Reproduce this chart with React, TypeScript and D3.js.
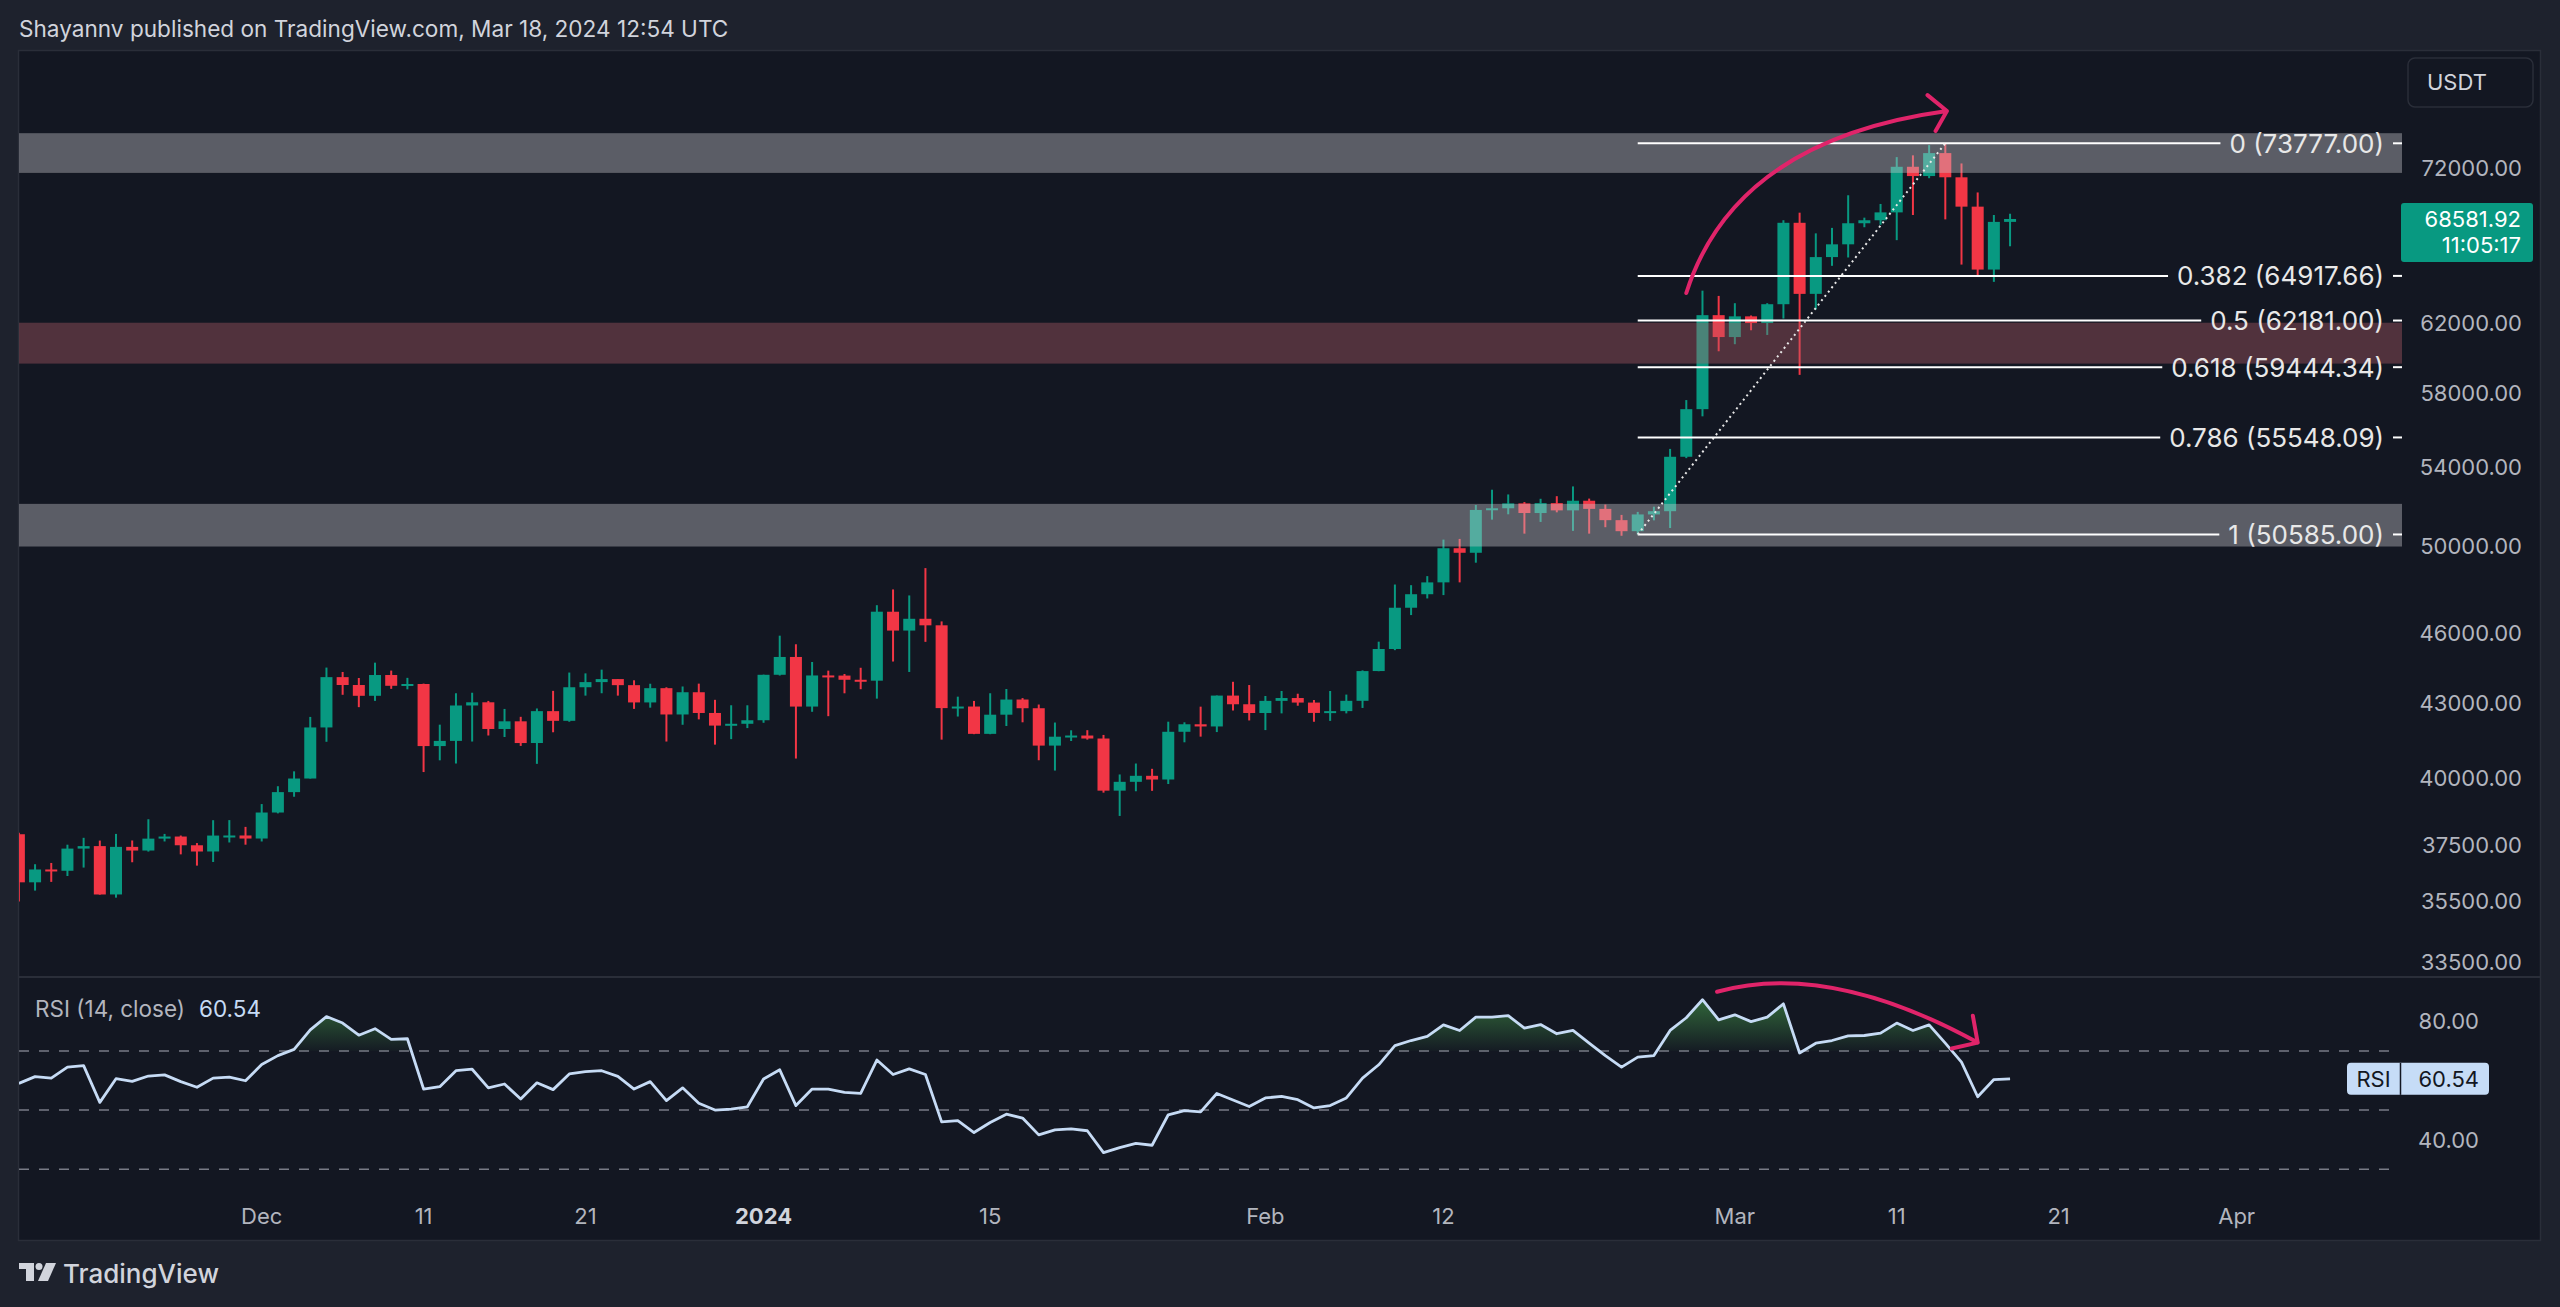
import * as d3 from 'd3'

// BTC/USDT daily candles with a fib retracement and RSI(14) pane,
// laid out like a TradingView snapshot.
const START = Date.UTC(2023, 10, 16)

const OPEN = [
  37880, 36163, 36614, 36568, 37359, 37449, 35742, 37421, 37289, 37721, 37796, 37479, 37255, 37832, 37835,
  37724, 38682, 39451, 39972, 41991, 44080, 43746, 43293, 44170, 43713, 43789, 41243, 41450, 42891, 43023,
  41929, 42240, 41365, 42657, 42260, 43652, 43869, 43997, 43740, 43017, 43613, 42520, 43442, 42582, 42067, 42140,
  42284, 44180, 44946, 42846, 44152, 44146, 43968, 43929, 46951, 46105, 46633, 46340, 42782, 42847, 41732,
  42511, 43138, 42777, 41262, 41618, 41665, 41545, 39507, 39845, 40077, 39934, 41816, 42120, 42031, 43302, 42941,
  42580, 43082, 43200, 43011, 42582, 42658, 43084, 44339, 45293, 47132, 47751, 48300, 49917, 49699, 51795,
  51880, 52124, 51642, 52137, 51775, 52258, 51849, 51288, 50745, 51572, 51733, 54522, 57085, 62504,
  61198, 62432, 62029, 63168, 68330, 63802, 66107, 66925, 68300, 68498, 69020, 72125, 71482, 73083, 71396,
  69403, 65316, 68390,
]
const HIGH = [
  37934, 36800, 36845, 37500, 37750, 37649, 37892, 37653, 38432, 37892, 37833, 37559, 38397, 38400, 38150,
  38999, 39676, 40250, 42420, 44488, 44300, 44042, 44700, 44359, 44049, 43805, 42104, 43400, 43421, 43080,
  42748, 42424, 42767, 43500, 44275, 44240, 44400, 43997, 43946, 43800, 43650, 43684, 43804, 43125, 42900, 42899,
  44186, 45879, 45500, 44729, 44357, 44214, 44480, 47248, 47972, 47695, 48969, 46515, 43257, 43079, 43400,
  43578, 43198, 42930, 42191, 41876, 41881, 41689, 40129, 40555, 40348, 42225, 42200, 42842, 43305, 43882, 43745,
  43285, 43494, 43380, 43119, 43494, 43344, 44368, 45614, 48200, 48170, 48592, 50334, 50368, 52043, 52816,
  52576, 52191, 52356, 52488, 52985, 52366, 52065, 51548, 51698, 51958, 54938, 57588, 64000, 63676,
  63230, 62485, 63230, 68500, 69000, 67637, 67995, 70170, 68670, 69584, 72800, 72925, 73650, 73777, 72357,
  70360, 68845, 68930,
]
const LOW = [
  35500, 35875, 36178, 36384, 36681, 35735, 35632, 36870, 37251, 37617, 37152, 36750, 36880, 37580, 37500,
  37616, 38650, 39275, 39971, 41414, 43335, 42821, 43081, 43584, 43564, 40222, 40680, 40555, 41424, 41666,
  41605, 41250, 40542, 41796, 42223, 43300, 43400, 43300, 42750, 42800, 41424, 42100, 42319, 41300, 41520, 41965,
  42180, 44148, 40750, 42630, 42450, 43397, 43569, 43175, 44748, 44300, 45606, 41500, 42436, 41720, 41718,
  42050, 42200, 40683, 40280, 41446, 41500, 39431, 38555, 39484, 39500, 39760, 41394, 41620, 41804, 42683, 42276,
  41884, 42565, 42880, 42222, 42258, 42565, 42788, 44332, 45242, 46800, 47557, 47711, 48300, 49225, 51314,
  51579, 50625, 51200, 51677, 50760, 50625, 50940, 50521, 50585, 51279, 50901, 54450, 56691, 60364,
  60777, 61600, 61321, 62300, 59005, 62848, 65550, 66081, 68038, 68200, 67195, 68845, 71333, 68555, 65630,
  64870, 64545, 66800,
]
const CLOSE = [
  36163, 36614, 36568, 37359, 37448, 35741, 37421, 37289, 37720, 37796, 37479, 37254, 37832, 37834, 37723,
  38682, 39451, 39972, 41991, 44080, 43746, 43293, 44170, 43713, 43789, 41243, 41450, 42890, 43023, 41929,
  42240, 41364, 42657, 42260, 43652, 43869, 43997, 43740, 43017, 43613, 42520, 43442, 42581, 42066, 42140, 42283,
  44179, 44946, 42845, 44151, 44145, 43968, 43929, 46952, 46105, 46633, 46339, 42782, 42847, 41732, 42511,
  43137, 42777, 41262, 41618, 41665, 41545, 39507, 39845, 40077, 39933, 41816, 42120, 42031, 43302, 42941, 42580,
  43082, 43200, 43011, 42583, 42658, 43084, 44338, 45293, 47132, 47751, 48299, 49917, 49699, 51795, 51880,
  52124, 51642, 52137, 51774, 52258, 51849, 51288, 50745, 51572, 51733, 54522, 57085, 62504, 61198,
  62432, 62029, 63168, 68330, 63801, 66106, 66925, 68300, 68498, 69020, 72123, 71482, 73083, 71397, 69403,
  65315, 68390, 68581.92,
]
const RSI = [
  59.0, 61.3, 60.8, 64.5, 65.0, 52.6, 60.6, 59.7, 61.5, 61.9, 59.6, 57.7, 60.8, 61.1, 59.9,
  65.4, 68.4, 70.5, 77.1, 81.6, 79.4, 75.3, 77.5, 73.9, 74.1, 57.1, 57.9, 63.3, 63.8, 57.5,
  58.8, 53.7, 59.2, 56.9, 62.2, 63.0, 63.3, 61.4, 57.1, 59.6, 53.2, 57.5, 52.3, 50.0, 50.3, 51.1,
  60.5, 63.6, 51.5, 57.1, 57.1, 56.0, 55.6, 66.9, 62.0, 63.9, 62.0, 46.0, 46.4, 42.4, 45.8,
  48.6, 47.3, 41.6, 43.3, 43.6, 43.0, 35.6, 37.3, 38.7, 38.1, 48.4, 49.8, 49.4, 55.6, 53.4, 51.2,
  54.1, 54.6, 53.5, 50.7, 51.5, 54.1, 60.8, 65.3, 71.8, 73.5, 74.9, 78.8, 76.9, 81.4, 81.4,
  81.9, 77.7, 78.9, 75.8, 76.9, 72.6, 68.4, 64.5, 67.9, 68.4, 76.9, 81.2, 87.3, 80.5,
  82.2, 79.9, 81.4, 85.9, 69.3, 72.6, 73.5, 75.1, 75.2, 76.0, 79.4, 76.9, 78.8, 72.6, 66.2,
  54.5, 60.3, 60.54,
]
const DATES = OPEN.map((_, i) => new Date(START + i * 864e5))

const PRICE_TICKS = [72000, 62000, 58000, 54000, 50000, 46000, 43000, 40000, 37500, 35500, 33500]
const RSI_TICKS = [80, 40]
const RSI_BANDS = [70, 50, 30]
const TIME_TICKS = ['2023-12-01', '2023-12-11', '2023-12-21', '2024-01-01', '2024-01-15', '2024-02-01', '2024-02-12', '2024-03-01', '2024-03-11', '2024-03-21', '2024-04-01']
const TIME_LABELS = ['Dec', '11', '21', '2024', '15', 'Feb', '12', 'Mar', '11', '21', 'Apr']

// support / resistance boxes (price ranges)
const ZONE_LO = [71700, 59650, 50000]
const ZONE_HI = [74500, 62050, 52100]
const ZONE_KIND = ['gray', 'red', 'gray']

const FIB_LEVELS = ['0', '0.382', '0.5', '0.618', '0.786', '1']
const FIB_PRICES = [73777, 64917.66, 62181, 59444.34, 55548.09, 50585]
const FIB_FROM = '2024-02-24'
const FIB_TO = '2024-03-14'

const LAST_PRICE = 68581.92
const COUNTDOWN = '11:05:17'

// hand-drawn arrows: [day of 2024, value]
const PRICE_ARROW = [[57.0, 63855], [60.0, 74006], [73.1, 76110], [71.9, 77290], [72.4, 74655]]
const RSI_ARROW = [[58.9, 90.0], [65.8, 100.5], [75.0, 72.8], [74.7, 81.9], [73.4, 70.8]]

const UP = '#089981'
const DOWN = '#f23645'
const FONT = 'Inter, "Noto Sans", sans-serif'

function textWidth(s: string, font: string) {
  const ctx = document.createElement('canvas').getContext('2d')
  if (!ctx) return s.length * 14
  ctx.font = font
  return ctx.measureText(s).width
}

export default function App() {
  const W = 2560
  const H = 1307
  const L = 19
  const PR = 2402 // right edge of plot area
  const R = 2540
  const TOP = 51
  const SEP = 977
  const BOT = 1240

  const x = d3.scaleUtc().domain([new Date(Date.UTC(2023, 11, 1)), new Date(Date.UTC(2024, 3, 1))]).range([261.7, 2236.7])
  const y = d3.scaleLog().domain([33500, 73777]).range([961.6, 143.3])
  const ry = d3.scaleLinear().domain([30, 80]).range([1169.2, 1021.3])
  const day = (d: number) => x(new Date(Date.UTC(2024, 0, 1) + d * 864e5))

  const bw = 12
  const rsiLine = d3.line<number>().x((_, i) => x(DATES[i])).y((v) => ry(v))(RSI) ?? ''
  const rsiArea =
    d3
      .area<number>()
      .x((_, i) => x(DATES[i]))
      .y0(ry(70))
      .y1((v) => ry(v))(RSI) ?? ''

  const arrow = (pts: number[][], fy: (v: number) => number) => {
    const p = d3.path()
    const P = pts.map(([d, v]) => [day(d), fy(v)])
    p.moveTo(P[0][0], P[0][1])
    p.quadraticCurveTo(P[1][0], P[1][1], P[2][0], P[2][1])
    p.moveTo(P[3][0], P[3][1])
    p.lineTo(P[2][0], P[2][1])
    p.lineTo(P[4][0], P[4][1])
    return p.toString()
  }

  const fibSize = 26
  const fibFont = `${fibSize}px ${FONT}`
  const fibX0 = x(new Date(FIB_FROM))
  const labelRight = 2384
  const rsiLast = RSI[RSI.length - 1]

  return (
    <svg width={W} height={H} viewBox={`0 0 ${W} ${H}`} style={{ position: 'absolute', left: 0, top: 0, display: 'block' }} fontFamily={FONT}>
      <defs>
        <clipPath id="mainClip">
          <rect x={L} y={TOP} width={PR - L} height={SEP - TOP} />
        </clipPath>
        <clipPath id="rsiClip">
          <rect x={L} y={SEP + 1} width={PR - L} height={BOT - SEP - 50} />
        </clipPath>
        <clipPath id="overClip">
          <rect x={L} y={SEP + 1} width={PR - L} height={ry(70) - SEP - 1} />
        </clipPath>
        <linearGradient id="rsiFill" gradientUnits="userSpaceOnUse" x1={0} x2={0} y1={ry(90)} y2={ry(70)}>
          <stop offset="0" stopColor="rgb(76,175,80)" stopOpacity={0.6} />
          <stop offset="1" stopColor="rgb(76,175,80)" stopOpacity={0.03} />
        </linearGradient>
      </defs>

      <rect x={0} y={0} width={W} height={H} fill="#1e222d" />
      <text x={L} y={37} fontSize={22.6} fill="#d1d4dc">
        Shayannv published on TradingView.com, Mar 18, 2024 12:54 UTC
      </text>

      <rect x={L - 0.5} y={TOP - 0.5} width={R - L + 1} height={BOT - TOP + 1} fill="#131722" stroke="#2a2e39" strokeWidth={1.5} />
      <line x1={L} x2={R} y1={SEP} y2={SEP} stroke="#2a2e39" strokeWidth={2} />

      {/* candles */}
      <g clipPath="url(#mainClip)">
        {DATES.map((d, i) => {
          const up = CLOSE[i] >= OPEN[i]
          const c = up ? UP : DOWN
          const cx = x(d)
          const top = y(Math.max(OPEN[i], CLOSE[i]))
          const bot = y(Math.min(OPEN[i], CLOSE[i]))
          return (
            <g key={i}>
              <line x1={cx} x2={cx} y1={y(HIGH[i])} y2={y(LOW[i])} stroke={c} strokeWidth={2} />
              <rect x={cx - bw / 2} y={top} width={bw} height={Math.max(2, bot - top)} fill={c} />
            </g>
          )
        })}

        {ZONE_LO.map((lo, i) => (
          <rect
            key={i}
            x={L}
            y={y(ZONE_HI[i])}
            width={PR - L}
            height={y(lo) - y(ZONE_HI[i])}
            fill={ZONE_KIND[i] === 'gray' ? 'rgba(200,201,204,0.4)' : 'rgba(185,95,105,0.38)'}
          />
        ))}

        {FIB_PRICES.map((p, i) => {
          const label = `${FIB_LEVELS[i]} (${p.toFixed(2)})`
          const tw = textWidth(label, fibFont)
          const yy = y(p)
          return (
            <g key={i}>
              <line x1={fibX0} x2={labelRight - tw - 9} y1={yy} y2={yy} stroke="#ffffff" strokeWidth={2} />
              <line x1={labelRight + 9} x2={PR} y1={yy} y2={yy} stroke="#ffffff" strokeWidth={2} />
              <text x={labelRight} y={yy} dy="0.36em" textAnchor="end" fontSize={fibSize} fill="#e8e8e8">
                {label}
              </text>
            </g>
          )
        })}

        <line
          x1={fibX0}
          y1={y(FIB_PRICES[5])}
          x2={x(new Date(FIB_TO))}
          y2={y(FIB_PRICES[0])}
          stroke="#e8e8e8"
          strokeWidth={2}
          strokeDasharray="2 3.5"
        />
        <path d={arrow(PRICE_ARROW, y)} fill="none" stroke="#e0246a" strokeWidth={4} strokeLinecap="round" strokeLinejoin="round" />
      </g>

      {/* price axis */}
      {PRICE_TICKS.map((p) => (
        <text key={p} x={2522} y={y(p)} dy="0.36em" textAnchor="end" fontSize={22} fill="#b2b5be">
          {p.toFixed(2)}
        </text>
      ))}
      <rect x={2408} y={58} width={125} height={49} rx={7} fill="#131722" stroke="#2a2e39" strokeWidth={1.5} />
      <text x={2427} y={82.5} dy="0.36em" fontSize={22} fill="#d1d4dc">
        USDT
      </text>
      <rect x={2401} y={y(LAST_PRICE) - 16} width={132} height={59} rx={3} fill={UP} />
      <text x={2521} y={y(LAST_PRICE)} dy="0.36em" textAnchor="end" fontSize={22} fill="#ffffff">
        {LAST_PRICE.toFixed(2)}
      </text>
      <text x={2521} y={y(LAST_PRICE) + 26} dy="0.36em" textAnchor="end" fontSize={22} fill="#ffffff">
        {COUNTDOWN}
      </text>

      {/* RSI pane */}
      {RSI_BANDS.map((b) => (
        <line key={b} x1={L} x2={PR - 4} y1={ry(b)} y2={ry(b)} stroke="#787b86" strokeWidth={1.5} strokeDasharray="10 10" />
      ))}
      <g clipPath="url(#rsiClip)">
        <path d={rsiArea} fill="url(#rsiFill)" clipPath="url(#overClip)" />
        <path d={rsiLine} fill="none" stroke="#c6dbf5" strokeWidth={2.8} strokeLinejoin="round" />
      </g>
      <path d={arrow(RSI_ARROW, ry)} fill="none" stroke="#e0246a" strokeWidth={4} strokeLinecap="round" strokeLinejoin="round" />
      <text x={35} y={1017} fontSize={22.5} fill="#b2b5be">
        RSI (14, close)
        <tspan dx={14} fill="#c6dbf5">
          {rsiLast.toFixed(2)}
        </tspan>
      </text>
      {RSI_TICKS.map((t) => (
        <text key={t} x={2479} y={ry(t)} dy="0.36em" textAnchor="end" fontSize={22} fill="#b2b5be">
          {t.toFixed(2)}
        </text>
      ))}
      <rect x={2347} y={ry(rsiLast) - 16} width={142} height={32} rx={4} fill="#c6dcf7" />
      <line x1={2400.5} x2={2400.5} y1={ry(rsiLast) - 16} y2={ry(rsiLast) + 16} stroke="#131722" strokeWidth={1.5} />
      <text x={2373.5} y={ry(rsiLast)} dy="0.36em" textAnchor="middle" fontSize={22} fill="#131722">
        RSI
      </text>
      <text x={2479} y={ry(rsiLast)} dy="0.36em" textAnchor="end" fontSize={22} fill="#131722">
        {rsiLast.toFixed(2)}
      </text>

      {/* time axis */}
      {TIME_TICKS.map((t, i) => (
        <text
          key={t}
          x={x(new Date(t))}
          y={1224}
          textAnchor="middle"
          fontSize={22}
          fontWeight={TIME_LABELS[i] === '2024' ? 700 : 400}
          fill={TIME_LABELS[i] === '2024' ? '#d1d4dc' : '#b2b5be'}
        >
          {TIME_LABELS[i]}
        </text>
      ))}

      {/* TradingView logo */}
      <g fill="#d1d4dc">
        <rect x={19} y={1263} width={15} height={6} />
        <rect x={26} y={1263} width={8} height={18} />
        <circle cx={39} cy={1266.5} r={3.5} />
        <polygon points="46,1263 56,1263 48,1281 38,1281" />
      </g>
      <text x={63} y={1283} fontSize={26} fontWeight={500} fill="#d1d4dc">
        TradingView
      </text>
    </svg>
  )
}
